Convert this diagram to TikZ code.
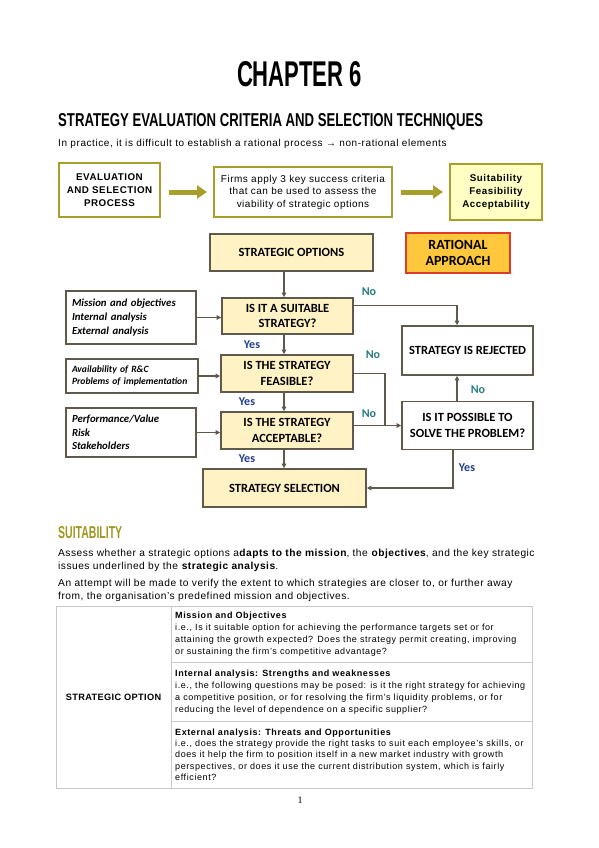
\documentclass[tikz,border=0pt]{standalone}
\usepackage{fontspec}
\setmainfont{Liberation Sans}
\newfontfamily\calfont{Carlito}
\newfontfamily\serfont{Liberation Serif}
\usetikzlibrary{arrows.meta,calc}
\definecolor{olv}{RGB}{168,158,44}
\definecolor{suitc}{RGB}{160,152,30}
\definecolor{cream}{RGB}{255,242,196}
\definecolor{ltyel}{RGB}{255,255,196}
\definecolor{fline}{RGB}{94,89,74}
\definecolor{noc}{RGB}{40,125,128}
\definecolor{yesc}{RGB}{33,62,142}
\definecolor{ratfill}{RGB}{255,200,60}
\definecolor{ratline}{RGB}{222,60,40}
\definecolor{tgray}{RGB}{200,200,200}
\newcommand{\ls}[1]{\addfontfeature{LetterSpace=#1}}
\tikzset{
  fbox/.style={draw=fline, line width=1.6pt, fill=cream, inner sep=2pt, align=center,
    font=\calfont\bfseries\fontsize{12.5}{15.5}\selectfont},
  wfbox/.style={fbox, fill=white},
  rbox/.style={fbox, draw=ratline, line width=1.2pt, fill=ratfill, font=\calfont\bfseries\fontsize{14}{15.5}\selectfont},
  lbox/.style={draw=fline, line width=1.4pt, fill=white, align=left, inner xsep=6pt, inner ysep=2pt,
    font=\calfont\bfseries\itshape\fontsize{10.8}{13.7}\selectfont},
  fl/.style={draw=fline, line width=1.4pt},
  arr/.style={fl, -{Triangle[length=4.5pt,width=4.5pt]}},
  tbox/.style={draw=olv, line width=2pt, fill=white, align=center, inner sep=2pt},
  bigarr/.style={draw=olv, line width=5pt, -{Triangle[length=10pt,width=13pt]}, shorten <=8pt, shorten >=6pt},
  lab/.style={font=\calfont\bfseries\fontsize{12}{13}\selectfont, inner sep=0},
  txt/.style={inner sep=0, anchor=north west, align=left},
  tline/.style={draw=tgray, line width=0.8pt}
}
\begin{document}
\begin{tikzpicture}[x=1pt,y=-1pt]
\useasboundingbox (0,0) rectangle (599,848);
\fill[white] (0,0) rectangle (599,848);

% headings
\node[inner sep=0, anchor=base] (chap) at (299.5,87) {\resizebox{125pt}{25pt}{\bfseries CHAPTER 6}};
\node[inner sep=0, anchor=base west] (sub) at (58,127) {\resizebox{425pt}{13pt}{\bfseries STRATEGY EVALUATION CRITERIA AND SELECTION TECHNIQUES}};
\node[inner sep=0, anchor=base west] (intro) at (58,146.5) {\fontsize{10}{12}\selectfont\ls{5.8}In practice, it is difficult to establish a rational process → non-rational elements};

% top row
\node[tbox, minimum width=101pt, minimum height=54pt, font=\bfseries\fontsize{9.8}{13}\selectfont\ls{5}] (eval) at (109.5,190) {EVALUATION\\AND SELECTION\\PROCESS};
\node[tbox, minimum width=178pt, minimum height=50pt, font=\fontsize{10}{12.5}\selectfont\ls{5}] (firms) at (303,192) {Firms apply 3 key success criteria\\that can be used to assess the\\viability of strategic options};
\node[tbox, fill=ltyel, minimum width=92pt, minimum height=56pt, font=\bfseries\fontsize{9.8}{13}\selectfont\ls{5.5}] (crit) at (496,192) {Suitability\\Feasibility\\Acceptability};
\draw[bigarr] (eval.east |- firms.west) -- (firms.west);
\draw[bigarr] (firms.east) -- (crit.west |- firms.east);

% flowchart
\node[fbox, minimum width=163pt, minimum height=37pt] (so) at (291.5,252.5) {STRATEGIC OPTIONS};
\node[fbox, minimum width=131pt, minimum height=36pt] (suit) at (287.5,316) {IS IT A SUITABLE\\STRATEGY?};
\node[fbox, minimum width=132pt, minimum height=37pt] (feas) at (287,373.5) {IS THE STRATEGY\\FEASIBLE?};
\node[fbox, minimum width=132pt, minimum height=37pt] (acc) at (287,430.5) {IS THE STRATEGY\\ACCEPTABLE?};
\node[fbox, minimum width=163pt, minimum height=38pt] (sel) at (284.5,488) {STRATEGY SELECTION};
\node[rbox, minimum width=104pt, minimum height=40pt] (rat) at (458,253) {RATIONAL\\APPROACH};
\node[wfbox, minimum width=131pt, minimum height=49pt] (rej) at (467.5,350.5) {STRATEGY IS REJECTED};
\node[wfbox, minimum width=131pt, minimum height=48pt] (poss) at (467.5,425.5) {IS IT POSSIBLE TO\\SOLVE THE PROBLEM?};

\node[lbox, text width=118pt, minimum height=53pt] (m1) at (131,317.5) {Mission and objectives\\Internal analysis\\External analysis};
\node[lbox, text width=120pt, minimum height=34pt, font=\calfont\bfseries\itshape\fontsize{9.6}{12}\selectfont] (m2) at (132,376) {Availability of R\&C\\Problems of implementation};
\node[lbox, text width=118pt, minimum height=49pt, font=\calfont\bfseries\itshape\fontsize{10.8}{13.5}\selectfont] (m3) at (131,432.5) {Performance/Value\\Risk\\Stakeholders};

\coordinate (vx) at (284,0);
\coordinate (rx) at (457,0);
\coordinate (jx) at (385,0);
\coordinate (sx) at (453,0);

\draw[arr] (so.south -| vx) -- (suit.north -| vx);
\draw[arr] (suit.south -| vx) -- (feas.north -| vx);
\draw[arr] (feas.south -| vx) -- (acc.north -| vx);
\draw[arr] (acc.south -| vx) -- (sel.north -| vx);

\draw[arr] (m1.east) -- (m1.east -| suit.west);
\draw[arr] (m2.east) -- (m2.east -| feas.west);
\draw[arr] (m3.east) -- (m3.east -| acc.west);

\draw[arr] ($(suit.north east)+(0,8)$) -| (rej.north -| rx);
\draw[fl] (feas.east) -| (jx |- poss.west);
\draw[arr] (acc.east |- poss.west) -- (poss.west);
\draw[arr] (poss.north -| rx) -- (rej.south -| rx);
\draw[arr] (poss.south -| sx) |- (sel.east);

\node[lab, text=noc] (no1) at (369,292) {No};
\node[lab, text=noc] (no2) at (373,355) {No};
\node[lab, text=noc] (no3) at (369,414) {No};
\node[lab, text=noc] (no4) at (478,390) {No};
\node[lab, text=yesc] (yes1) at (252,345) {Yes};
\node[lab, text=yesc] (yes2) at (247,402) {Yes};
\node[lab, text=yesc] (yes3) at (247,459) {Yes};
\node[lab, text=yesc] (yes4) at (467,468) {Yes};

% suitability
\node[inner sep=0, anchor=base west, text=suitc] (suith) at (58,538) {\resizebox{64pt}{12pt}{\bfseries SUITABILITY}};
\node[txt, font=\fontsize{10.2}{13}\selectfont\ls{4.8}] (p1) at (58,549.2) {Assess whether a strategic options a\textbf{dapts to the mission}, the \textbf{objectives}, and the key strategic\\issues underlined by the \textbf{strategic analysis}.};
\node[txt, font=\fontsize{10.2}{12.5}\selectfont\ls{5}] (p2) at (58,579.3) {An attempt will be made to verify the extent to which strategies are closer to, or further away\\from, the organisation's predefined mission and objectives.};

% table
\draw[tline] (56,606) rectangle (532,788);
\draw[tline] (171,606) -- (171,788);
\draw[tline] (171,662) -- (532,662);
\draw[tline] (171,721) -- (532,721);
\node[inner sep=0, font=\bfseries\fontsize{9.2}{11}\selectfont\ls{4}] (sopt) at (113.5,697) {STRATEGIC OPTION};
\node[txt, font=\fontsize{9}{11.8}\selectfont\ls{6.6}] (r1) at (175,612) {\textbf{Mission and Objectives}\\i.e., Is it suitable option for achieving the performance targets set or for\\attaining the growth expected? Does the strategy permit creating, improving\\or sustaining the firm's competitive advantage?};
\node[txt, font=\fontsize{9}{12.1}\selectfont\ls{6.6}] (r2) at (175,669.7) {\textbf{Internal analysis: Strengths and weaknesses}\\i.e., the following questions may be posed: is it the right strategy for achieving\\a competitive position, or for resolving the firm's liquidity problems, or for\\reducing the level of dependence on a specific supplier?};
\node[txt, font=\fontsize{9}{11.4}\selectfont\ls{6.6}] (r3) at (175,728.3) {\textbf{External analysis: Threats and Opportunities}\\i.e., does the strategy provide the right tasks to suit each employee's skills, or\\does it help the firm to position itself in a new market industry with growth\\perspectives, or does it use the current distribution system, which is fairly\\efficient?};

\node[inner sep=0, font=\serfont\fontsize{10}{12}\selectfont] (pg) at (300,800) {1};
\end{tikzpicture}
\end{document}
